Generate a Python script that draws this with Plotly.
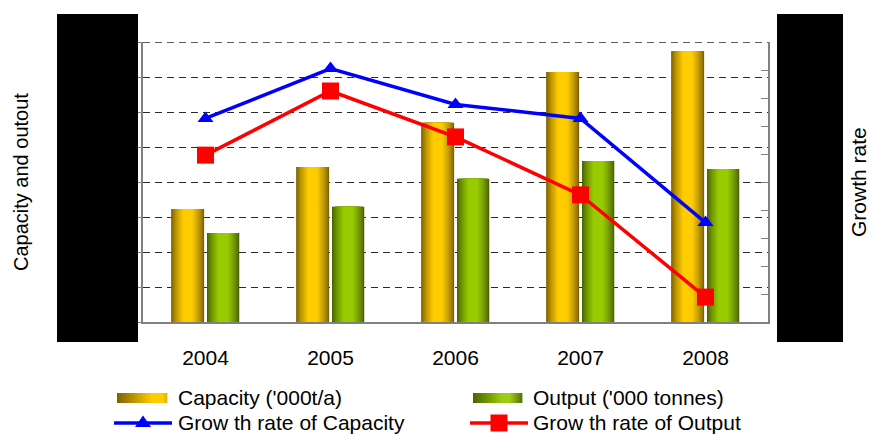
import plotly.graph_objects as go

# ---------------- data ----------------
years = ['2004', '2005', '2006', '2007', '2008']
capacity = [3.23, 4.43, 5.69, 7.14, 7.74]
output = [2.54, 3.29, 4.09, 4.60, 4.37]
cap_growth = [7.27, 9.05, 7.77, 7.27, 3.55]
out_growth = [5.96, 8.25, 6.61, 4.54, 0.89]

name_cap = "Capacity ('000t/a)"
name_out = "Output ('000 tonnes)"
name_capg = "Grow th rate of Capacity"
name_outg = "Grow th rate of Output"
title_left = "Capacity and outout"
title_right = "Growth rate"

# ---------------- geometry ----------------
W, H = 869, 434
L, R, T, B = 143, 101, 42, 112
PW, PH = W - L - R, H - T - B
FONT = "Liberation Sans, Arial, sans-serif"
Y_MAX = 8
GRID_COLOR = '#2a2a2a'
GRID_W = 1.4


def px(x):
    return (x - L) / PW


def py(y):
    return (T + PH - y) / PH


def hex2rgb(h):
    h = h.lstrip('#')
    return [int(h[i:i + 2], 16) for i in (0, 2, 4)]


def mix(c1, c2, t):
    a, b = hex2rgb(c1), hex2rgb(c2)
    return 'rgb(%d,%d,%d)' % tuple(round(a[i] + (b[i] - a[i]) * t) for i in range(3))


CAP_DARK, CAP_BRIGHT = '#7d6300', '#ffcc00'
OUT_DARK, OUT_BRIGHT = '#4a6400', '#99cc00'

fig = go.Figure()

N = 10


def add_grad_bars(vals, center, width, dark, bright, name):
    for k in range(N):
        frac = 1 - 0.7 * k / (N - 1)
        w = width * frac
        col = mix(dark, bright, (k / (N - 1)) ** 0.75)
        fig.add_trace(go.Bar(
            x=years, y=vals, width=w, offset=center - w / 2, name=name,
            marker=dict(color=col, line=dict(width=0)),
            showlegend=False, hoverinfo='skip' if k else 'x+y'))


add_grad_bars(capacity, -0.143, 0.264, CAP_DARK, CAP_BRIGHT, name_cap)
add_grad_bars(output, 0.141, 0.258, OUT_DARK, OUT_BRIGHT, name_out)

fig.add_trace(go.Scatter(
    x=years, y=cap_growth, yaxis='y2', mode='lines+markers', name=name_capg,
    line=dict(color='#0000ff', width=3.5),
    marker=dict(symbol='triangle-up', size=14, color='#0000ff'),
    showlegend=False))
fig.add_trace(go.Scatter(
    x=years, y=out_growth, yaxis='y2', mode='lines+markers', name=name_outg,
    line=dict(color='#ff0000', width=3.5),
    marker=dict(symbol='square', size=17, color='#ff0000'),
    showlegend=False))

shapes = []
# dashed top gridline (plotly omits the one at the range end)
shapes.append(dict(type='line', xref='paper', yref='y', x0=0, x1=1, y0=Y_MAX, y1=Y_MAX,
                   layer='below', line=dict(color=GRID_COLOR, width=GRID_W, dash='7px,5px')))
# black blocks covering axis labels
shapes.append(dict(type='rect', xref='paper', yref='paper', layer='above',
                   x0=px(57), x1=px(138), y0=py(342), y1=py(14),
                   fillcolor='black', line=dict(width=0)))
shapes.append(dict(type='rect', xref='paper', yref='paper', layer='above',
                   x0=px(777), x1=px(843), y0=py(342), y1=py(14),
                   fillcolor='black', line=dict(width=0)))


# legend swatches (gradient stripes)
def swatch(x0, x1, y0, y1, dark, bright, profile):
    n = 25
    step = (x1 - x0) / n
    for i in range(n):
        t = profile((i + 0.5) / n)
        shapes.append(dict(type='rect', xref='paper', yref='paper',
                           x0=px(x0 + i * step), x1=px(x0 + (i + 1) * step + 0.4),
                           y0=py(y1), y1=py(y0), fillcolor=mix(dark, bright, t),
                           line=dict(width=0)))


swatch(117, 167, 393, 403, CAP_DARK, CAP_BRIGHT,
       lambda u: min(1.0, u / 0.7) if u < 0.9 else 1 - (u - 0.9) * 2.5)
swatch(473, 522, 393, 403, OUT_DARK, OUT_BRIGHT,
       lambda u: min(1.0, u / 0.6) if u < 0.75 else max(0.0, 1 - (u - 0.75) * 3.5))

# legend line symbols
shapes.append(dict(type='line', xref='paper', yref='paper', x0=px(114), x1=px(172),
                   y0=py(423), y1=py(423), line=dict(color='#0000ff', width=3.5)))
shapes.append(dict(type='line', xref='paper', yref='paper', x0=px(470), x1=px(528),
                   y0=py(423), y1=py(423), line=dict(color='#ff0000', width=3.5)))
shapes.append(dict(type='path', xref='paper', yref='paper', xsizemode='pixel', ysizemode='pixel',
                   xanchor=px(143), yanchor=py(423),
                   path='M-8,-4 L8,-4 L0,7.5 Z', fillcolor='#0000ff', line=dict(width=0)))
shapes.append(dict(type='rect', xref='paper', yref='paper', xsizemode='pixel', ysizemode='pixel',
                   xanchor=px(499), yanchor=py(423), x0=-8.5, x1=8.5, y0=-8.5, y1=8.5,
                   fillcolor='#ff0000', line=dict(width=0)))

annotations = [
    dict(text=title_left, xref='paper', yref='paper', x=px(21), y=0.5, textangle=-90,
         showarrow=False, xanchor='center', yanchor='middle', font=dict(size=20, color='black')),
    dict(text=title_right, xref='paper', yref='paper', x=px(858), y=0.5, textangle=-90,
         showarrow=False, xanchor='center', yanchor='middle', font=dict(size=21, color='black')),
]
for txt, x, y in [(name_cap, 176, 397), (name_out, 531, 397), (name_capg, 176, 422), (name_outg, 531, 422)]:
    annotations.append(dict(text=txt, xref='paper', yref='paper', x=px(x), y=py(y),
                            showarrow=False, xanchor='left', yanchor='middle',
                            font=dict(size=21, color='black')))

fig.update_layout(
    width=W, height=H, autosize=False,
    margin=dict(l=L, r=R, t=T, b=B, pad=0),
    paper_bgcolor='white', plot_bgcolor='white',
    font=dict(family=FONT, color='black', size=20),
    barmode='overlay', showlegend=False,
    xaxis=dict(type='category', range=[-0.5, 4.5], showgrid=False, zeroline=False,
               showline=True, linecolor='#808080', linewidth=2, ticks='',
               tickfont=dict(size=21), ticklabelstandoff=16),
    yaxis=dict(range=[0, Y_MAX], dtick=1, tick0=0, showgrid=True, gridcolor=GRID_COLOR,
               gridwidth=GRID_W, griddash='7px,5px', zeroline=False, showline=True,
               linecolor='#808080', linewidth=2, ticks='outside', ticklen=4,
               tickcolor='#808080', showticklabels=False),
    yaxis2=dict(range=[0, 10], dtick=1, tick0=0, overlaying='y', side='right', showgrid=False,
                zeroline=False, showline=True, linecolor='#808080', linewidth=2,
                ticks='inside', ticklen=7, tickcolor='#808080', showticklabels=False),
    shapes=shapes, annotations=annotations,
)

fig.write_html("out.html", config={'displayModeBar': False},
               post_script="document.body.style.margin='0';document.body.style.padding='0';"
                           "document.documentElement.style.overflow='hidden';")
